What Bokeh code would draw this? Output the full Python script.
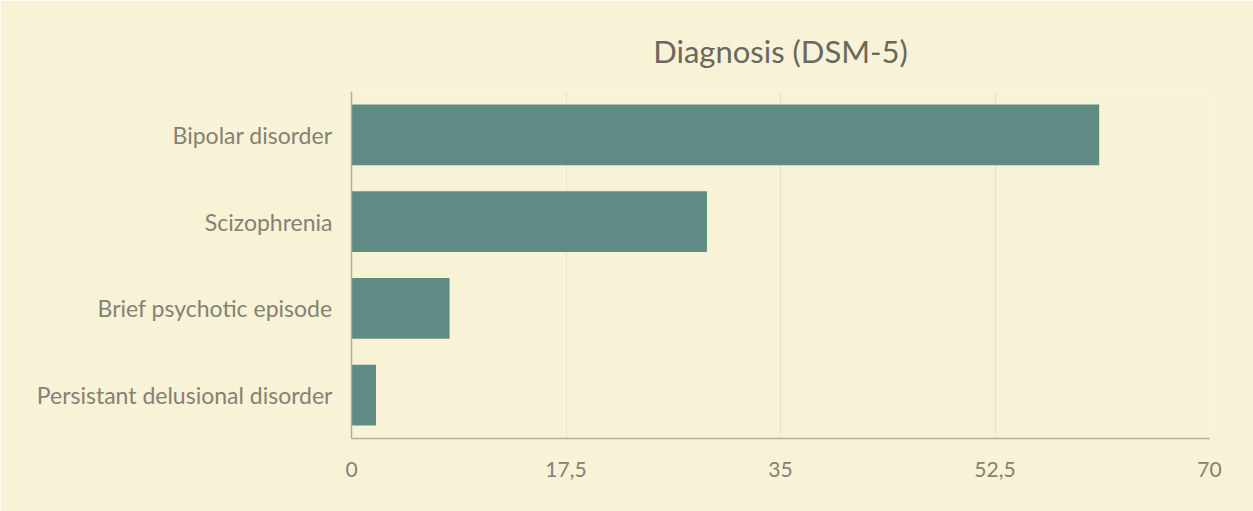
from bokeh.plotting import figure
from bokeh.models import FixedTicker, ColumnDataSource
from bokeh.embed import file_html
from bokeh.resources import INLINE

categories = ["Bipolar disorder", "Scizophrenia", "Brief psychotic episode", "Persistant delusional disorder"]
values = [61, 29, 8, 2]
tick_values = [0, 17.5, 35, 52.5, 70]
tick_labels = ["0", "17,5", "35", "52,5", "70"]

BG = "#f8f2d6"
BAR = "#5f8b84"
AXIS = "#b6ae95"
GRID = "#e9e2c6"
TXT = "#858174"

src = ColumnDataSource(dict(cat=categories, val=values))

p = figure(y_range=list(reversed(categories)), x_range=(0, 70),
           frame_width=858, frame_height=347,
           min_border_left=351, min_border_right=44, min_border_bottom=73, min_border_top=91,
           output_backend="svg", toolbar_location=None,
           background_fill_color=BG, border_fill_color=BG, outline_line_color=None)

p.title.text = "Diagnosis (DSM-5)"
p.title.align = "center"
p.title.text_font = "Lato"
p.title.text_font_size = "31px"
p.title.text_font_style = "normal"
p.title.text_color = "#6a675f"
p.title.standoff = 43

p.hbar(y="cat", right="val", left=0, height=0.7, source=src, color=BAR, line_color=None)

p.xaxis.ticker = FixedTicker(ticks=tick_values)
p.xaxis.major_label_overrides = {v: l for v, l in zip(tick_values, tick_labels)}
for ax in (p.xaxis, p.yaxis):
    ax.axis_line_color = AXIS
    ax.axis_line_width = 1.5
    ax.major_tick_line_color = None
    ax.minor_tick_line_color = None
    ax.major_label_text_font = "Lato"
    ax.major_label_text_color = TXT
p.xaxis.major_label_text_font_size = "21px"
p.yaxis.major_label_text_font_size = "23px"
p.xaxis.major_label_standoff = 17
p.yaxis.major_label_standoff = 13

p.xgrid.grid_line_color = GRID
p.xgrid.ticker = FixedTicker(ticks=tick_values)
p.ygrid.grid_line_color = None

open("out.html", "w").write(file_html(p, INLINE))
